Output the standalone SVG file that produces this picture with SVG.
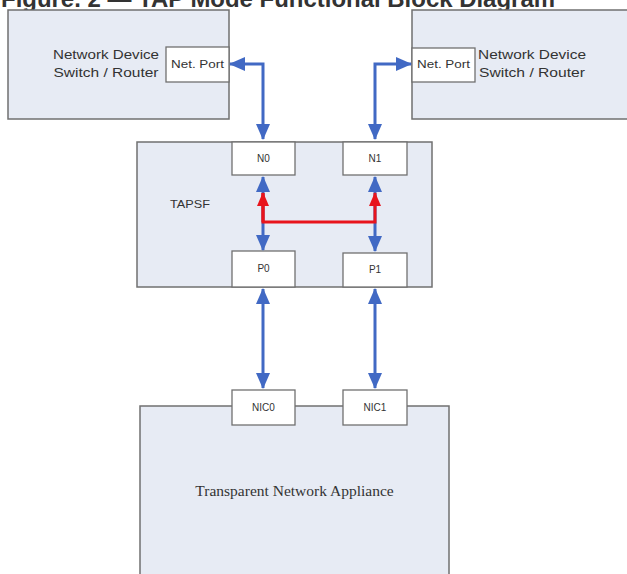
<svg xmlns="http://www.w3.org/2000/svg" width="627" height="574" viewBox="0 0 627 574">
<style>
.box{fill:#e7ebf4;stroke:#707070;stroke-width:1.5}
.port{fill:#ffffff;stroke:#707070;stroke-width:1.3}
.lbl{font-family:"Liberation Sans",Arial,sans-serif;fill:#333333}
.blue{fill:none;stroke:#4169c4;stroke-width:3}
.red{fill:none;stroke:#e8141c;stroke-width:3}
</style>
<defs>
<marker id="ab" markerUnits="userSpaceOnUse" markerWidth="16" markerHeight="14" refX="15" refY="7" orient="auto-start-reverse">
<path d="M0,0 L16,7 L0,14 Z" fill="#4169c4"/>
</marker>
<marker id="ar" markerUnits="userSpaceOnUse" markerWidth="14" markerHeight="12" refX="13" refY="6" orient="auto">
<path d="M0,0 L14,6 L0,12 Z" fill="#e8141c"/>
</marker>
</defs>
<rect width="627" height="574" fill="#ffffff"/>
<text x="1" y="7" font-family="'Liberation Sans',Arial,sans-serif" font-weight="bold" font-size="24" fill="#333333" textLength="554" lengthAdjust="spacingAndGlyphs">Figure. 2 — TAP Mode Functional Block Diagram</text>

<g id="device-left">
<rect class="box" x="8" y="10" width="221" height="109"/>
<text class="lbl" x="106" y="59" font-size="13" text-anchor="middle" textLength="106" lengthAdjust="spacingAndGlyphs">Network Device</text>
<text class="lbl" x="106" y="77" font-size="13" text-anchor="middle" textLength="105" lengthAdjust="spacingAndGlyphs">Switch / Router</text>
</g>
<g id="netport-left">
<rect class="port" x="166" y="47" width="63" height="35"/>
<text class="lbl" x="197.5" y="68" font-size="10" text-anchor="middle" textLength="53" lengthAdjust="spacingAndGlyphs">Net. Port</text>
</g>
<g id="device-right">
<rect class="box" x="412" y="10" width="230" height="109"/>
<text class="lbl" x="532" y="59" font-size="13" text-anchor="middle" textLength="108" lengthAdjust="spacingAndGlyphs">Network Device</text>
<text class="lbl" x="532" y="77" font-size="13" text-anchor="middle" textLength="106" lengthAdjust="spacingAndGlyphs">Switch / Router</text>
</g>
<g id="netport-right">
<rect class="port" x="412" y="48" width="63" height="34"/>
<text class="lbl" x="443.5" y="68" font-size="10" text-anchor="middle" textLength="53" lengthAdjust="spacingAndGlyphs">Net. Port</text>
</g>

<g id="tapsf">
<rect class="box" x="137" y="142" width="295" height="145"/>
<text class="lbl" x="190" y="208" font-size="11" text-anchor="middle" textLength="40" lengthAdjust="spacingAndGlyphs">TAPSF</text>
</g>
<g id="n0">
<rect class="port" x="232" y="142" width="63" height="33"/>
<text class="lbl" x="263.5" y="162" font-size="10" text-anchor="middle">N0</text>
</g>
<g id="n1">
<rect class="port" x="343" y="142" width="64" height="33"/>
<text class="lbl" x="375" y="162" font-size="10" text-anchor="middle">N1</text>
</g>
<g id="p0">
<rect class="port" x="232" y="251" width="63" height="36"/>
<text class="lbl" x="263.5" y="272" font-size="10" text-anchor="middle">P0</text>
</g>
<g id="p1">
<rect class="port" x="343" y="253" width="64" height="34"/>
<text class="lbl" x="375" y="273" font-size="10" text-anchor="middle">P1</text>
</g>

<g id="appliance">
<rect class="box" x="140" y="406" width="309" height="180"/>
<text x="294.5" y="496" font-family="'Liberation Serif','Times New Roman',serif" font-size="15.5" fill="#333333" text-anchor="middle">Transparent Network Appliance</text>
</g>
<g id="nic0">
<rect class="port" x="232" y="390" width="63" height="35"/>
<text class="lbl" x="263.5" y="411" font-size="10" text-anchor="middle">NIC0</text>
</g>
<g id="nic1">
<rect class="port" x="343" y="390" width="64" height="35"/>
<text class="lbl" x="375" y="411" font-size="10" text-anchor="middle">NIC1</text>
</g>

<g id="connectors">
<path class="blue" d="M230,64 H263 V139" marker-start="url(#ab)" marker-end="url(#ab)"/>
<path class="blue" d="M411,64 H375 V139" marker-start="url(#ab)" marker-end="url(#ab)"/>
<path class="blue" d="M263,177 V250" marker-start="url(#ab)" marker-end="url(#ab)"/>
<path class="blue" d="M375,177 V251" marker-start="url(#ab)" marker-end="url(#ab)"/>
<path class="red" d="M263,193 V222 H375 V193" marker-end="url(#ar)"/>
<path class="red" d="M263,222 V193" marker-end="url(#ar)"/>
<path class="blue" d="M263,289 V388" marker-start="url(#ab)" marker-end="url(#ab)"/>
<path class="blue" d="M375,289 V388" marker-start="url(#ab)" marker-end="url(#ab)"/>
</g>
</svg>
